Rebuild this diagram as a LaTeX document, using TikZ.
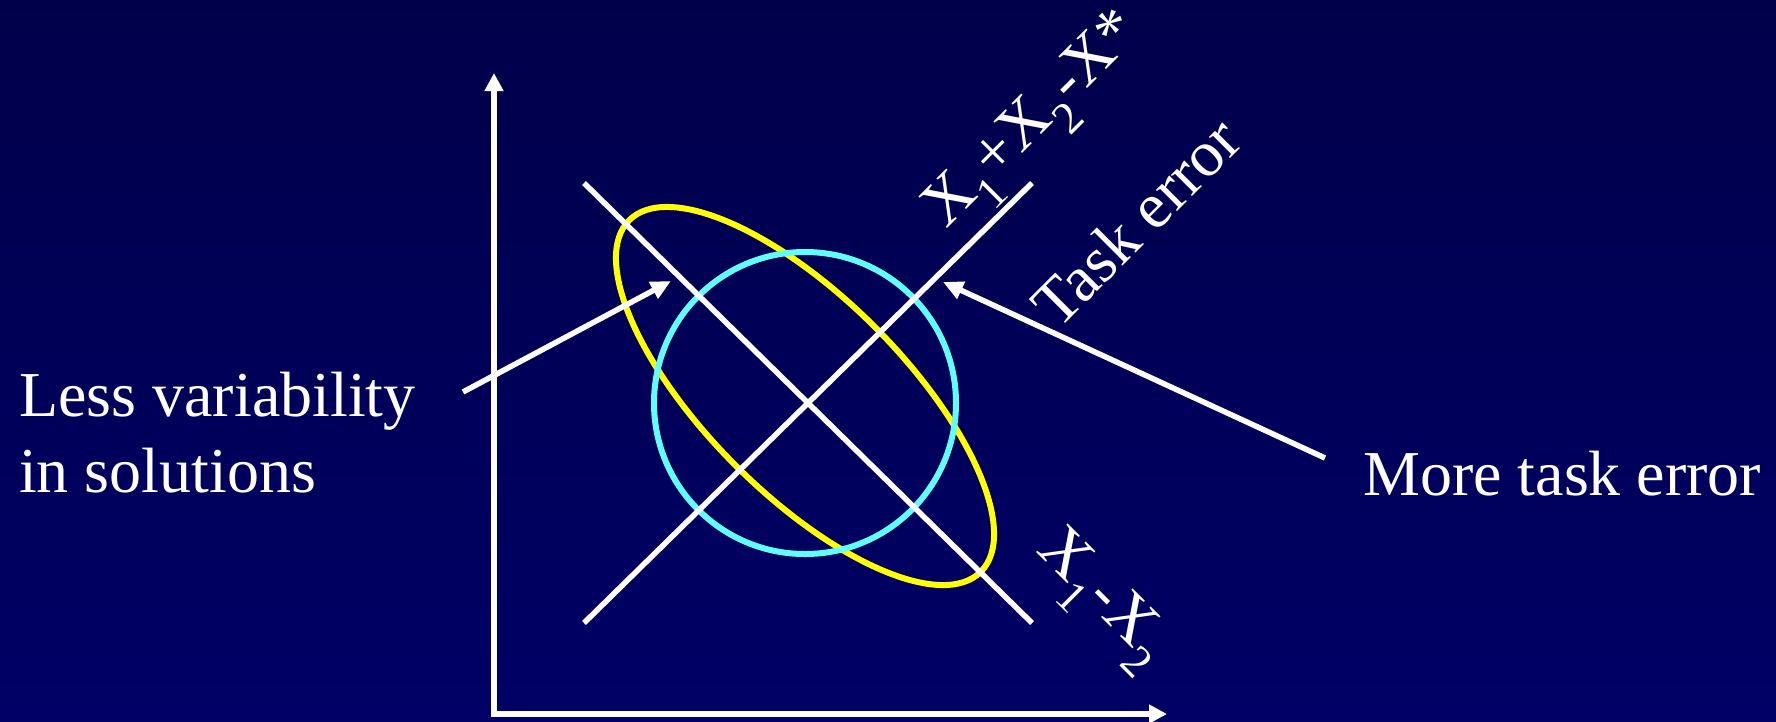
\documentclass[tikz,border=0pt]{standalone}
\usepackage{fontspec}
\setmainfont{Liberation Serif}
\usetikzlibrary{arrows.meta}
\definecolor{bgtop}{RGB}{0,0,74}
\definecolor{bgbot}{RGB}{0,0,102}
\definecolor{ycol}{RGB}{255,255,0}
\definecolor{ccol}{RGB}{96,255,255}
\begin{document}
\begin{tikzpicture}[x=1pt,y=-1pt,
  axis/.style={line width=6pt,white,-{Triangle[length=18pt,width=18pt]}},
  diag/.style={line width=5.5pt,white},
  pointer/.style={line width=5.5pt,white,-{Triangle[length=20pt,width=18pt]}},
  lbl/.style={text=white,inner sep=0pt,font=\fontsize{64}{76}\selectfont},
  rlbl/.style={text=white,inner sep=0pt,font=\fontsize{65}{76}\selectfont}]
\shade[top color=bgtop,bottom color=bgbot] (0,0) rectangle (1776,721);
\useasboundingbox (0,0) rectangle (1776,721);
% ellipse and circle
\draw[ycol,line width=6pt,rotate around={-45:(805,396)}] (805,396) ellipse [x radius=248.6pt, y radius=98.2pt];
\draw[ccol,line width=6pt] (805,403) circle [radius=151pt];
% axes
\coordinate (Ov) at (494,717);
\coordinate (Oh) at (491,714);
\coordinate (ytip) at (494,73);
\coordinate (xtip) at (1167,714);
\draw[axis] (Ov) -- (ytip);
\draw[axis] (Oh) -- (xtip);
% diagonals
\coordinate (d1a) at (584,623);
\coordinate (d1b) at (1032,183);
\coordinate (d2a) at (584,183);
\coordinate (d2b) at (1032,623);
\draw[diag] (d1a) -- (d1b);
\draw[diag] (d2a) -- (d2b);
% labels
\node[lbl,anchor=north west,align=left] (less) at (19,372) {Less variability\\in solutions};
\node[lbl,anchor=base west] (more) at (1363,495) {More task error};
\node[rlbl,rotate=45,anchor=base west] (sum) at (946,230) {X\textsubscript{1}+X\textsubscript{2}-X*};
\node[rlbl,rotate=45,anchor=base west] (task) at (1058,331) {Task error};
\node[rlbl,rotate=-45,anchor=base west] (diff) at (1035,551) {X\textsubscript{1}-X\textsubscript{2}};
% pointers
\coordinate (a1s) at (463,392);
\coordinate (a1e) at (671,281);
\coordinate (a2s) at (1325,458);
\coordinate (a2e) at (943,282);
\draw[pointer] (a1s) -- (a1e);
\draw[pointer] (a2s) -- (a2e);
\end{tikzpicture}
\end{document}
